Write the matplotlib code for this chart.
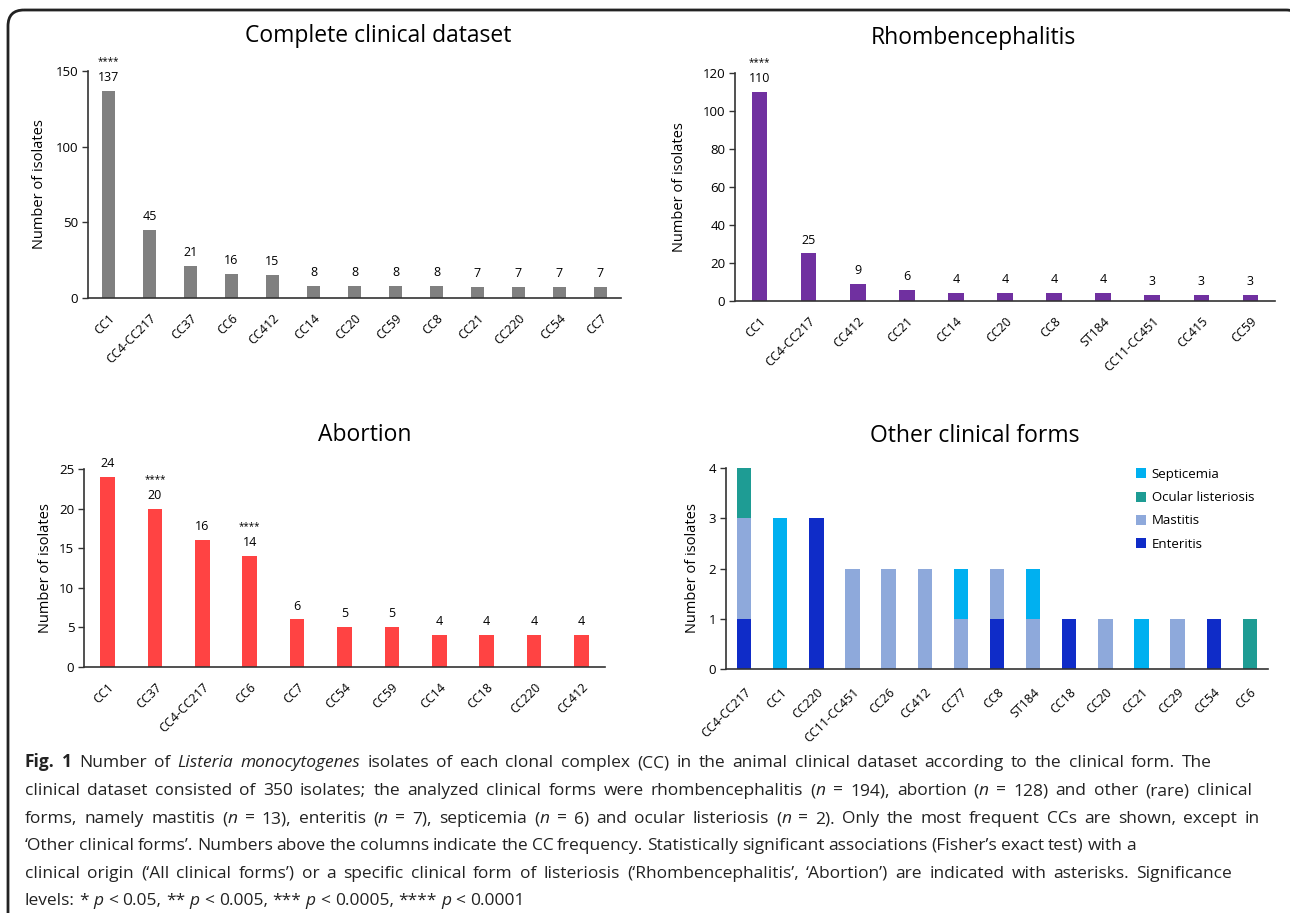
import re
import matplotlib
matplotlib.use('Agg')
import matplotlib.pyplot as plt
from matplotlib.patches import FancyBboxPatch

# --- data ---
complete_cc = ['CC1', 'CC4-CC217', 'CC37', 'CC6', 'CC412', 'CC14', 'CC20',
               'CC59', 'CC8', 'CC21', 'CC220', 'CC54', 'CC7']
complete_n = [137, 45, 21, 16, 15, 8, 8, 8, 8, 7, 7, 7, 7]
complete_sig = ['****', '', '', '', '', '', '', '', '', '', '', '', '']

rhomb_cc = ['CC1', 'CC4-CC217', 'CC412', 'CC21', 'CC14', 'CC20', 'CC8',
            'ST184', 'CC11-CC451', 'CC415', 'CC59']
rhomb_n = [110, 25, 9, 6, 4, 4, 4, 4, 3, 3, 3]
rhomb_sig = ['****', '', '', '', '', '', '', '', '', '', '']

abort_cc = ['CC1', 'CC37', 'CC4-CC217', 'CC6', 'CC7', 'CC54', 'CC59',
            'CC14', 'CC18', 'CC220', 'CC412']
abort_n = [24, 20, 16, 14, 6, 5, 5, 4, 4, 4, 4]
abort_sig = ['', '****', '', '****', '', '', '', '', '', '', '']

other_cc = ['CC4-CC217', 'CC1', 'CC220', 'CC11-CC451', 'CC26', 'CC412', 'CC77',
            'CC8', 'ST184', 'CC18', 'CC20', 'CC21', 'CC29', 'CC54', 'CC6']
enteritis = [1, 0, 3, 0, 0, 0, 0, 1, 0, 1, 0, 0, 0, 1, 0]
mastitis = [2, 0, 0, 2, 2, 2, 1, 1, 1, 0, 1, 0, 1, 0, 0]
ocular = [1, 0, 0, 0, 0, 0, 0, 0, 0, 0, 0, 0, 0, 0, 1]
septicemia = [0, 3, 0, 0, 0, 0, 1, 0, 1, 0, 0, 1, 0, 0, 0]

W, H = 1290, 913
fig = plt.figure(figsize=(W / 100, H / 100), dpi=100)

FONT = ['Open Sans', 'DejaVu Sans']
AX_COLOR = '#333333'


def px_rect(left, right, top, bottom):
    return [left / W, 1 - bottom / H, (right - left) / W, (bottom - top) / H]


def style_axes(ax, cats, yticks, xlim, labelpad=6, tickpad=10):
    ax.set_xlim(*xlim)
    ax.set_ylim(yticks[0], yticks[-1])
    ax.set_yticks(yticks)
    ax.set_xticks(range(len(cats)))
    ax.set_xticklabels(cats, rotation=45, ha='right', rotation_mode='anchor',
                       fontsize=9, family=FONT)
    for lab in ax.get_yticklabels():
        lab.set_fontsize(9.5)
        lab.set_family(FONT)
    ax.tick_params(axis='x', length=0, pad=tickpad)
    ax.tick_params(axis='y', length=4, width=1, direction='out', color=AX_COLOR, pad=3)
    for s in ['top', 'right']:
        ax.spines[s].set_visible(False)
    for s in ['left', 'bottom']:
        ax.spines[s].set_color(AX_COLOR)
        ax.spines[s].set_linewidth(1.2)
    ax.set_ylabel('Number of isolates', fontsize=10.5, family=FONT, labelpad=labelpad)


def bar_panel(rect, cats, vals, sig, color, yticks, width, labelpad=6):
    ax = fig.add_axes(rect)
    x = list(range(len(cats)))
    ax.bar(x, vals, width=width, color=color, edgecolor='none')
    for xi, v, s in zip(x, vals, sig):
        ax.annotate(str(v), (xi, v), xytext=(0, 5), textcoords='offset points',
                    ha='center', va='bottom', fontsize=9, family=FONT)
        if s:
            ax.annotate(s, (xi, v), xytext=(0, 17), textcoords='offset points',
                        ha='center', va='bottom', fontsize=7, family=FONT)
    style_axes(ax, cats, yticks, (-0.5, len(cats) - 0.5), labelpad=labelpad)
    return ax


bar_panel(px_rect(88, 621, 71, 298), complete_cc, complete_n, complete_sig,
          '#808080', [0, 50, 100, 150], 0.32)
bar_panel(px_rect(735, 1275, 73, 301), rhomb_cc, rhomb_n, rhomb_sig,
          '#7030A0', [0, 20, 40, 60, 80, 100, 120], 0.32, labelpad=11)
bar_panel(px_rect(84, 605, 469, 667), abort_cc, abort_n, abort_sig,
          '#FF4343', [0, 5, 10, 15, 20, 25], 0.31, labelpad=4)

# stacked panel
ax4 = fig.add_axes(px_rect(726, 1268, 468, 669))
x = list(range(len(other_cc)))
series = [('Enteritis', enteritis, '#0F2CC8'),
          ('Mastitis', mastitis, '#8EA9DB'),
          ('Ocular listeriosis', ocular, '#1E9C94'),
          ('Septicemia', septicemia, '#00B0F0')]
bottom = [0] * len(x)
handles = []
for name, vals, col in series:
    h = ax4.bar(x, vals, width=0.4, bottom=bottom, color=col, label=name, edgecolor='none')
    handles.append(h)
    bottom = [b + v for b, v in zip(bottom, vals)]
style_axes(ax4, other_cc, [0, 1, 2, 3, 4], (-0.5, len(other_cc) - 0.5), tickpad=12)
ax4.legend(handles[::-1], [s[0] for s in series][::-1], loc='upper left',
           bbox_to_anchor=(1124 / W, 1 - 456 / H), bbox_transform=fig.transFigure,
           frameon=False, prop={'family': FONT, 'size': 9.5},
           handlelength=0.8, handleheight=0.8, handletextpad=0.4, labelspacing=0.78)

# titles
for txt, cx, cy in [('Complete clinical dataset', 378, 36),
                    ('Rhombencephalitis', 973, 38),
                    ('Abortion', 365, 435),
                    ('Other clinical forms', 975, 436)]:
    fig.text(cx / W, 1 - cy / H, txt, ha='center', va='center', fontsize=16.5, family=FONT)

# background layer in pixel units: frame + caption
bg = fig.add_axes([0, 0, 1, 1], zorder=-1)
bg.set_xlim(0, W)
bg.set_ylim(H, 0)
bg.axis('off')
bg.add_patch(FancyBboxPatch((8, 10), W + 4, H + 40,
                            boxstyle='round,pad=0,rounding_size=16',
                            fill=False, edgecolor='#222222', linewidth=2))

caption = [
    [('Fig. 1', 'bold'), (' Number of ', 'normal'), ('Listeria monocytogenes', 'italic'),
     (' isolates of each clonal complex (CC) in the animal clinical dataset according to the clinical form. The', 'normal')],
    [('clinical dataset consisted of 350 isolates; the analyzed clinical forms were rhombencephalitis (', 'normal'),
     ('n', 'italic'), (' = 194), abortion (', 'normal'), ('n', 'italic'),
     (' = 128) and other (rare) clinical', 'normal')],
    [('forms, namely mastitis (', 'normal'), ('n', 'italic'), (' = 13), enteritis (', 'normal'),
     ('n', 'italic'), (' = 7), septicemia (', 'normal'), ('n', 'italic'),
     (' = 6) and ocular listeriosis (', 'normal'), ('n', 'italic'),
     (' = 2). Only the most frequent CCs are shown, except in', 'normal')],
    [('\u2018Other clinical forms\u2019. Numbers above the columns indicate the CC frequency. '
      'Statistically significant associations (Fisher\u2019s exact test) with a', 'normal')],
    [('clinical origin (\u2018All clinical forms\u2019) or a specific clinical form of listeriosis '
      '(\u2018Rhombencephalitis\u2019, \u2018Abortion\u2019) are indicated with asterisks. Significance', 'normal')],
    [('levels: * ', 'normal'), ('p', 'italic'), (' < 0.05, ** ', 'normal'), ('p', 'italic'),
     (' < 0.005, *** ', 'normal'), ('p', 'italic'), (' < 0.0005, **** ', 'normal'),
     ('p', 'italic'), (' < 0.0001', 'normal')],
]
baselines = [767, 795, 823, 850, 878, 905]
line_ends = [1262, 1288, 1287, 1110, 1250, None]   # right edge of each caption line
CAP_X = 25

renderer = fig.canvas.get_renderer()


def cap_kw(sty):
    kw = dict(fontsize=12.5, family=FONT, va='baseline', ha='left', color='#222222')
    if sty == 'bold':
        kw['fontweight'] = 'bold'
    if sty == 'italic':
        kw['fontstyle'] = 'italic'
    return kw


def text_width(s, sty):
    t = bg.text(0, 0, s, **cap_kw(sty))
    w = t.get_window_extent(renderer).width
    t.remove()
    return w


base_space = text_width('x x', 'normal') - text_width('xx', 'normal')

for line, yb, end in zip(caption, baselines, line_ends):
    tokens = []
    for seg, sty in line:
        for part in re.split('( )', seg):
            if part:
                tokens.append((part, sty))
    words = [(p, s, text_width(p, s)) for p, s in tokens if p != ' ']
    n_space = sum(1 for p, s in tokens if p == ' ')
    space = base_space
    if end is not None and n_space:
        space = (end - CAP_X - sum(w for _, _, w in words)) / n_space
        space = min(max(space, base_space * 0.85), base_space * 1.6)
    xpos = CAP_X
    wi = 0
    for p, s in tokens:
        if p == ' ':
            xpos += space
            continue
        bg.text(xpos, yb, p, **cap_kw(s))
        xpos += words[wi][2]
        wi += 1

fig.savefig('out.png', dpi=100)
